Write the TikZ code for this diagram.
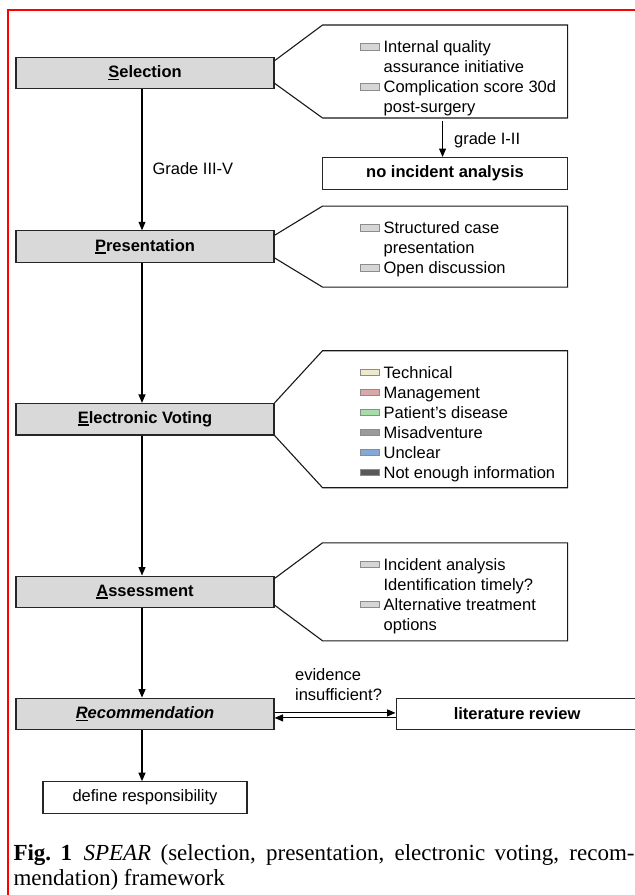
\documentclass[tikz,border=0pt]{standalone}
\usepackage{fontspec}
\setmainfont{Liberation Serif}
\setsansfont{Liberation Sans}
\usetikzlibrary{arrows.meta, positioning}

\definecolor{stagegray}{HTML}{D9D9D9}
\definecolor{sqgray}{HTML}{D6D6D6}
\definecolor{sqtech}{HTML}{EEE8CD}
\definecolor{sqmanage}{HTML}{D9A9A9}
\definecolor{sqdisease}{HTML}{A8DCA8}
\definecolor{sqmisadv}{HTML}{9B9B9B}
\definecolor{squnclear}{HTML}{86A8D6}
\definecolor{sqnoinfo}{HTML}{595959}
\definecolor{sqframe}{HTML}{8C8C8C}

\setlength{\parindent}{0pt}
\setlength{\fboxsep}{0pt}
\setlength{\fboxrule}{0.7pt}
\newcommand{\legsq}[1]{\raisebox{3.2pt}{\fcolorbox{sqframe}{#1}{\rule{0pt}{5.5pt}\rule{19pt}{0pt}}}}
\newcommand{\firstul}[1]{\setbox0=\hbox{#1}\rlap{\rule[-2.6pt]{\wd0}{1.6pt}}#1}

\begin{document}
\begin{tikzpicture}[x=1pt, y=-1pt,
    stage/.style={draw=black!85, fill=stagegray, line width=1.1pt, minimum width=258pt, minimum height=31.5pt, font=\sffamily\bfseries\fontsize{16.5}{20}\selectfont},
    whitebox/.style={draw=black!85, fill=white, line width=1.1pt, minimum height=31.5pt, font=\sffamily\fontsize{16.5}{20}\selectfont},
    infobox/.style={minimum width=245pt, inner sep=0pt, outer sep=0pt},
    items/.style={inner sep=0pt, anchor=north west, font=\sffamily\fontsize{16.5}{20}\selectfont},
    calloutline/.style={draw=black!90, line width=1.1pt},
    arrow/.style={-{Triangle[length=8.5pt, width=7pt]}, line width=1.1pt},
    lbl/.style={inner sep=0pt, font=\sffamily\fontsize{16.5}{20}\selectfont},
    figcap/.style={text width=621pt, align=justify, inner sep=0pt, anchor=north west, font=\rmfamily\fontsize{23}{25.5}\selectfont}
  ]
  \useasboundingbox (0,0) rectangle (635,895);
  \draw[red, line width=2pt] (8,905) |- (645,10);

  % main stages
  \node[stage] (sel) at (145,73) {\firstul{S}election};
  \node[stage, below=141pt of sel] (pres) {\firstul{P}resentation};
  \node[stage, below=140pt of pres] (ev) {\firstul{E}lectronic Voting};
  \node[stage, below=140pt of ev] (ass) {\firstul{A}ssessment};
  \node[stage, below=89.5pt of ass] (rec) {\itshape\firstul{R}ecommendation};
  \node[whitebox, minimum width=204pt, below=51pt of rec] (resp) {define responsibility};
  \node[whitebox, minimum width=242pt, font=\sffamily\bfseries\fontsize{16.5}{20}\selectfont, right=121pt of rec] (lit) {literature review};

  % callouts
  \node[infobox, minimum height=93pt, right=48pt of sel, yshift=1.5pt] (selinfo) {};
  \node[infobox, minimum height=81pt, right=48pt of pres] (presinfo) {};
  \node[infobox, minimum height=137pt, right=48pt of ev] (evinfo) {};
  \node[infobox, minimum height=98pt, right=48pt of ass] (assinfo) {};
  \node[whitebox, minimum width=245pt, font=\sffamily\bfseries\fontsize{16.5}{20}\selectfont, below=39pt of selinfo] (noinc) {no incident analysis};

  \draw[calloutline] ([yshift=-4pt]sel.north east) -- (selinfo.north west) -- (selinfo.north east) -- (selinfo.south east) -- (selinfo.south west) -- ([yshift=6pt]sel.south east);
  \draw[calloutline] ([yshift=-5pt]pres.north east) -- (presinfo.north west) -- (presinfo.north east) -- (presinfo.south east) -- (presinfo.south west) -- ([yshift=5pt]pres.south east);
  \draw[calloutline] (ev.north east) -- (evinfo.north west) -- (evinfo.north east) -- (evinfo.south east) -- (evinfo.south west) -- (ev.south east);
  \draw[calloutline] ([yshift=-3pt]ass.north east) -- (assinfo.north west) -- (assinfo.north east) -- (assinfo.south east) -- (assinfo.south west) -- ([yshift=3pt]ass.south east);

  \node[items] (selitems) at ([xshift=37pt, yshift=-13.5pt]selinfo.north west) {%
    \begin{tabular}{@{}l@{\hspace{3.5pt}}l@{}}
      \legsq{sqgray} & Internal quality\\
                     & assurance initiative\\
      \legsq{sqgray} & Complication score 30d\\
                     & post-surgery
    \end{tabular}};
  \node[items] (presitems) at ([xshift=37pt, yshift=-13.5pt]presinfo.north west) {%
    \begin{tabular}{@{}l@{\hspace{3.5pt}}l@{}}
      \legsq{sqgray} & Structured case\\
                     & presentation\\
      \legsq{sqgray} & Open discussion
    \end{tabular}};
  \node[items] (evitems) at ([xshift=37pt, yshift=-13.5pt]evinfo.north west) {%
    \begin{tabular}{@{}l@{\hspace{3.5pt}}l@{}}
      \legsq{sqtech}    & Technical\\
      \legsq{sqmanage}  & Management\\
      \legsq{sqdisease} & Patient’s disease\\
      \legsq{sqmisadv}  & Misadventure\\
      \legsq{squnclear} & Unclear\\
      \legsq{sqnoinfo}  & Not enough information
    \end{tabular}};
  \node[items] (assitems) at ([xshift=37pt, yshift=-13.5pt]assinfo.north west) {%
    \begin{tabular}{@{}l@{\hspace{3.5pt}}l@{}}
      \legsq{sqgray} & Incident analysis\\
                     & Identification timely?\\
      \legsq{sqgray} & Alternative treatment\\
                     & options
    \end{tabular}};

  % connectors
  \draw[arrow] ([xshift=-3pt]sel.south) -- node[lbl, right=10pt, pos=0.565] (gradehigh) {Grade III-V} ([xshift=-3pt]pres.north);
  \draw[arrow, shorten <=3pt] ([xshift=-2.5pt]selinfo.south) -- node[lbl, right=11pt, pos=0.57] (gradelow) {grade I-II} ([xshift=-2.5pt]noinc.north);
  \draw[arrow] ([xshift=-3pt]pres.south) -- ([xshift=-3pt]ev.north);
  \draw[arrow] ([xshift=-3pt]ev.south) -- ([xshift=-3pt]ass.north);
  \draw[arrow] ([xshift=-3pt]ass.south) -- ([xshift=-3pt]rec.north);
  \draw[arrow] ([xshift=-3pt]rec.south) -- ([xshift=-3pt]resp.north);
  \draw[arrow] ([yshift=1pt]rec.east) -- node[lbl, align=left, anchor=south west, pos=0, xshift=20pt, yshift=12pt] (evid) {evidence\\insufficient?} ([yshift=1pt]lit.west);
  \draw[arrow] ([yshift=-4pt]lit.west) -- ([yshift=-4pt]rec.east);

  \node[figcap] (cap) at (13.3,844) {\textbf{Fig.~1}\hspace{0.5em}\textit{SPEAR} (selection, presentation, electronic voting, recom-\linebreak mendation) framework};
\end{tikzpicture}
\end{document}
